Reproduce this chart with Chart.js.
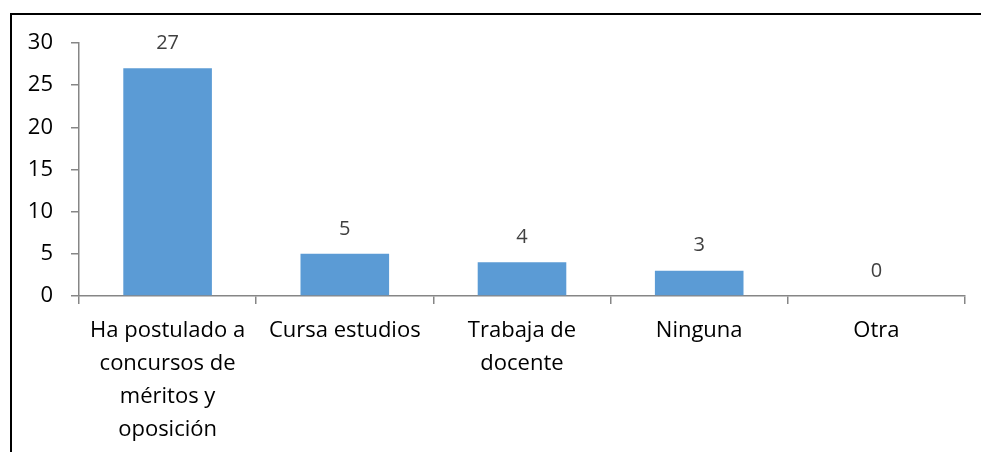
<!DOCTYPE html>
<html>
<head>
<meta charset="utf-8">
<script src="https://cdn.jsdelivr.net/npm/chart.js@4/dist/chart.umd.min.js"></script>
<style>
  html, body { margin: 0; padding: 0; background: #fff; }
  #wrap { position: relative; width: 981px; height: 452px; overflow: hidden; }
  #frame { position: absolute; left: 10px; top: 13px; width: 1000px; height: 500px;
           border-left: 2px solid #000; border-top: 2px solid #000; }
  #grafico { position: absolute; left: 0; top: 0; }
</style>
</head>
<body>
<div id="wrap">
  <div id="frame"></div>
  <canvas id="grafico" width="981" height="452"></canvas>
</div>
<script>
// categorías y valores
const categorias = [
  ['Ha postulado a', 'concursos de', 'méritos y', 'oposición'],
  'Cursa estudios',
  ['Trabaja de', 'docente'],
  'Ninguna',
  'Otra'
];
const valores = [27, 5, 4, 3, 0];
const yTicks = [0, 5, 10, 15, 20, 25, 30];

const FONT = '"Open Sans", "Liberation Sans", sans-serif';
const AXIS_GRAY = '#868686';

// etiquetas de valor encima de cada barra
const etiquetasValor = {
  id: 'etiquetasValor',
  afterDatasetsDraw(chart) {
    const ctx = chart.ctx;
    const meta = chart.getDatasetMeta(0);
    ctx.save();
    ctx.font = '20px ' + FONT;
    ctx.fillStyle = '#404040';
    ctx.textAlign = 'center';
    ctx.textBaseline = 'middle';
    meta.data.forEach((bar, i) => {
      ctx.fillText(String(valores[i]), bar.x, bar.y - 25);
    });
    ctx.restore();
  }
};

const ctx = document.getElementById('grafico').getContext('2d');
new Chart(ctx, {
  type: 'bar',
  data: {
    labels: categorias,
    datasets: [{
      data: valores,
      backgroundColor: '#5B9BD5',
      borderWidth: 0,
      barPercentage: 0.5,
      categoryPercentage: 1
    }]
  },
  options: {
    responsive: false,
    animation: false,
    layout: { padding: { top: 43, right: 16, left: 0, bottom: 0 } },
    plugins: { legend: { display: false }, tooltip: { enabled: false } },
    scales: {
      x: {
        offset: true,
        grid: {
          offset: true,
          drawOnChartArea: false,
          drawTicks: true,
          tickLength: 8,
          color: AXIS_GRAY,
          lineWidth: 1.5
        },
        border: { display: true, color: AXIS_GRAY, width: 1.5 },
        ticks: {
          color: '#000',
          font: { family: FONT, size: 22, lineHeight: 1.5 },
          padding: 10,
          maxRotation: 0,
          autoSkip: false
        },
        afterFit(scale) { scale.height = 156; }
      },
      y: {
        min: 0,
        max: 30,
        afterBuildTicks(scale) { scale.ticks = yTicks.map(v => ({ value: v })); },
        grid: {
          drawOnChartArea: false,
          drawTicks: true,
          tickLength: 8,
          color: AXIS_GRAY,
          lineWidth: 1.5
        },
        border: { display: true, color: AXIS_GRAY, width: 1.5 },
        ticks: {
          color: '#000',
          font: { family: FONT, size: 22 },
          padding: 18
        },
        afterFit(scale) { scale.width = 79; }
      }
    }
  },
  plugins: [etiquetasValor]
});
</script>
</body>
</html>
